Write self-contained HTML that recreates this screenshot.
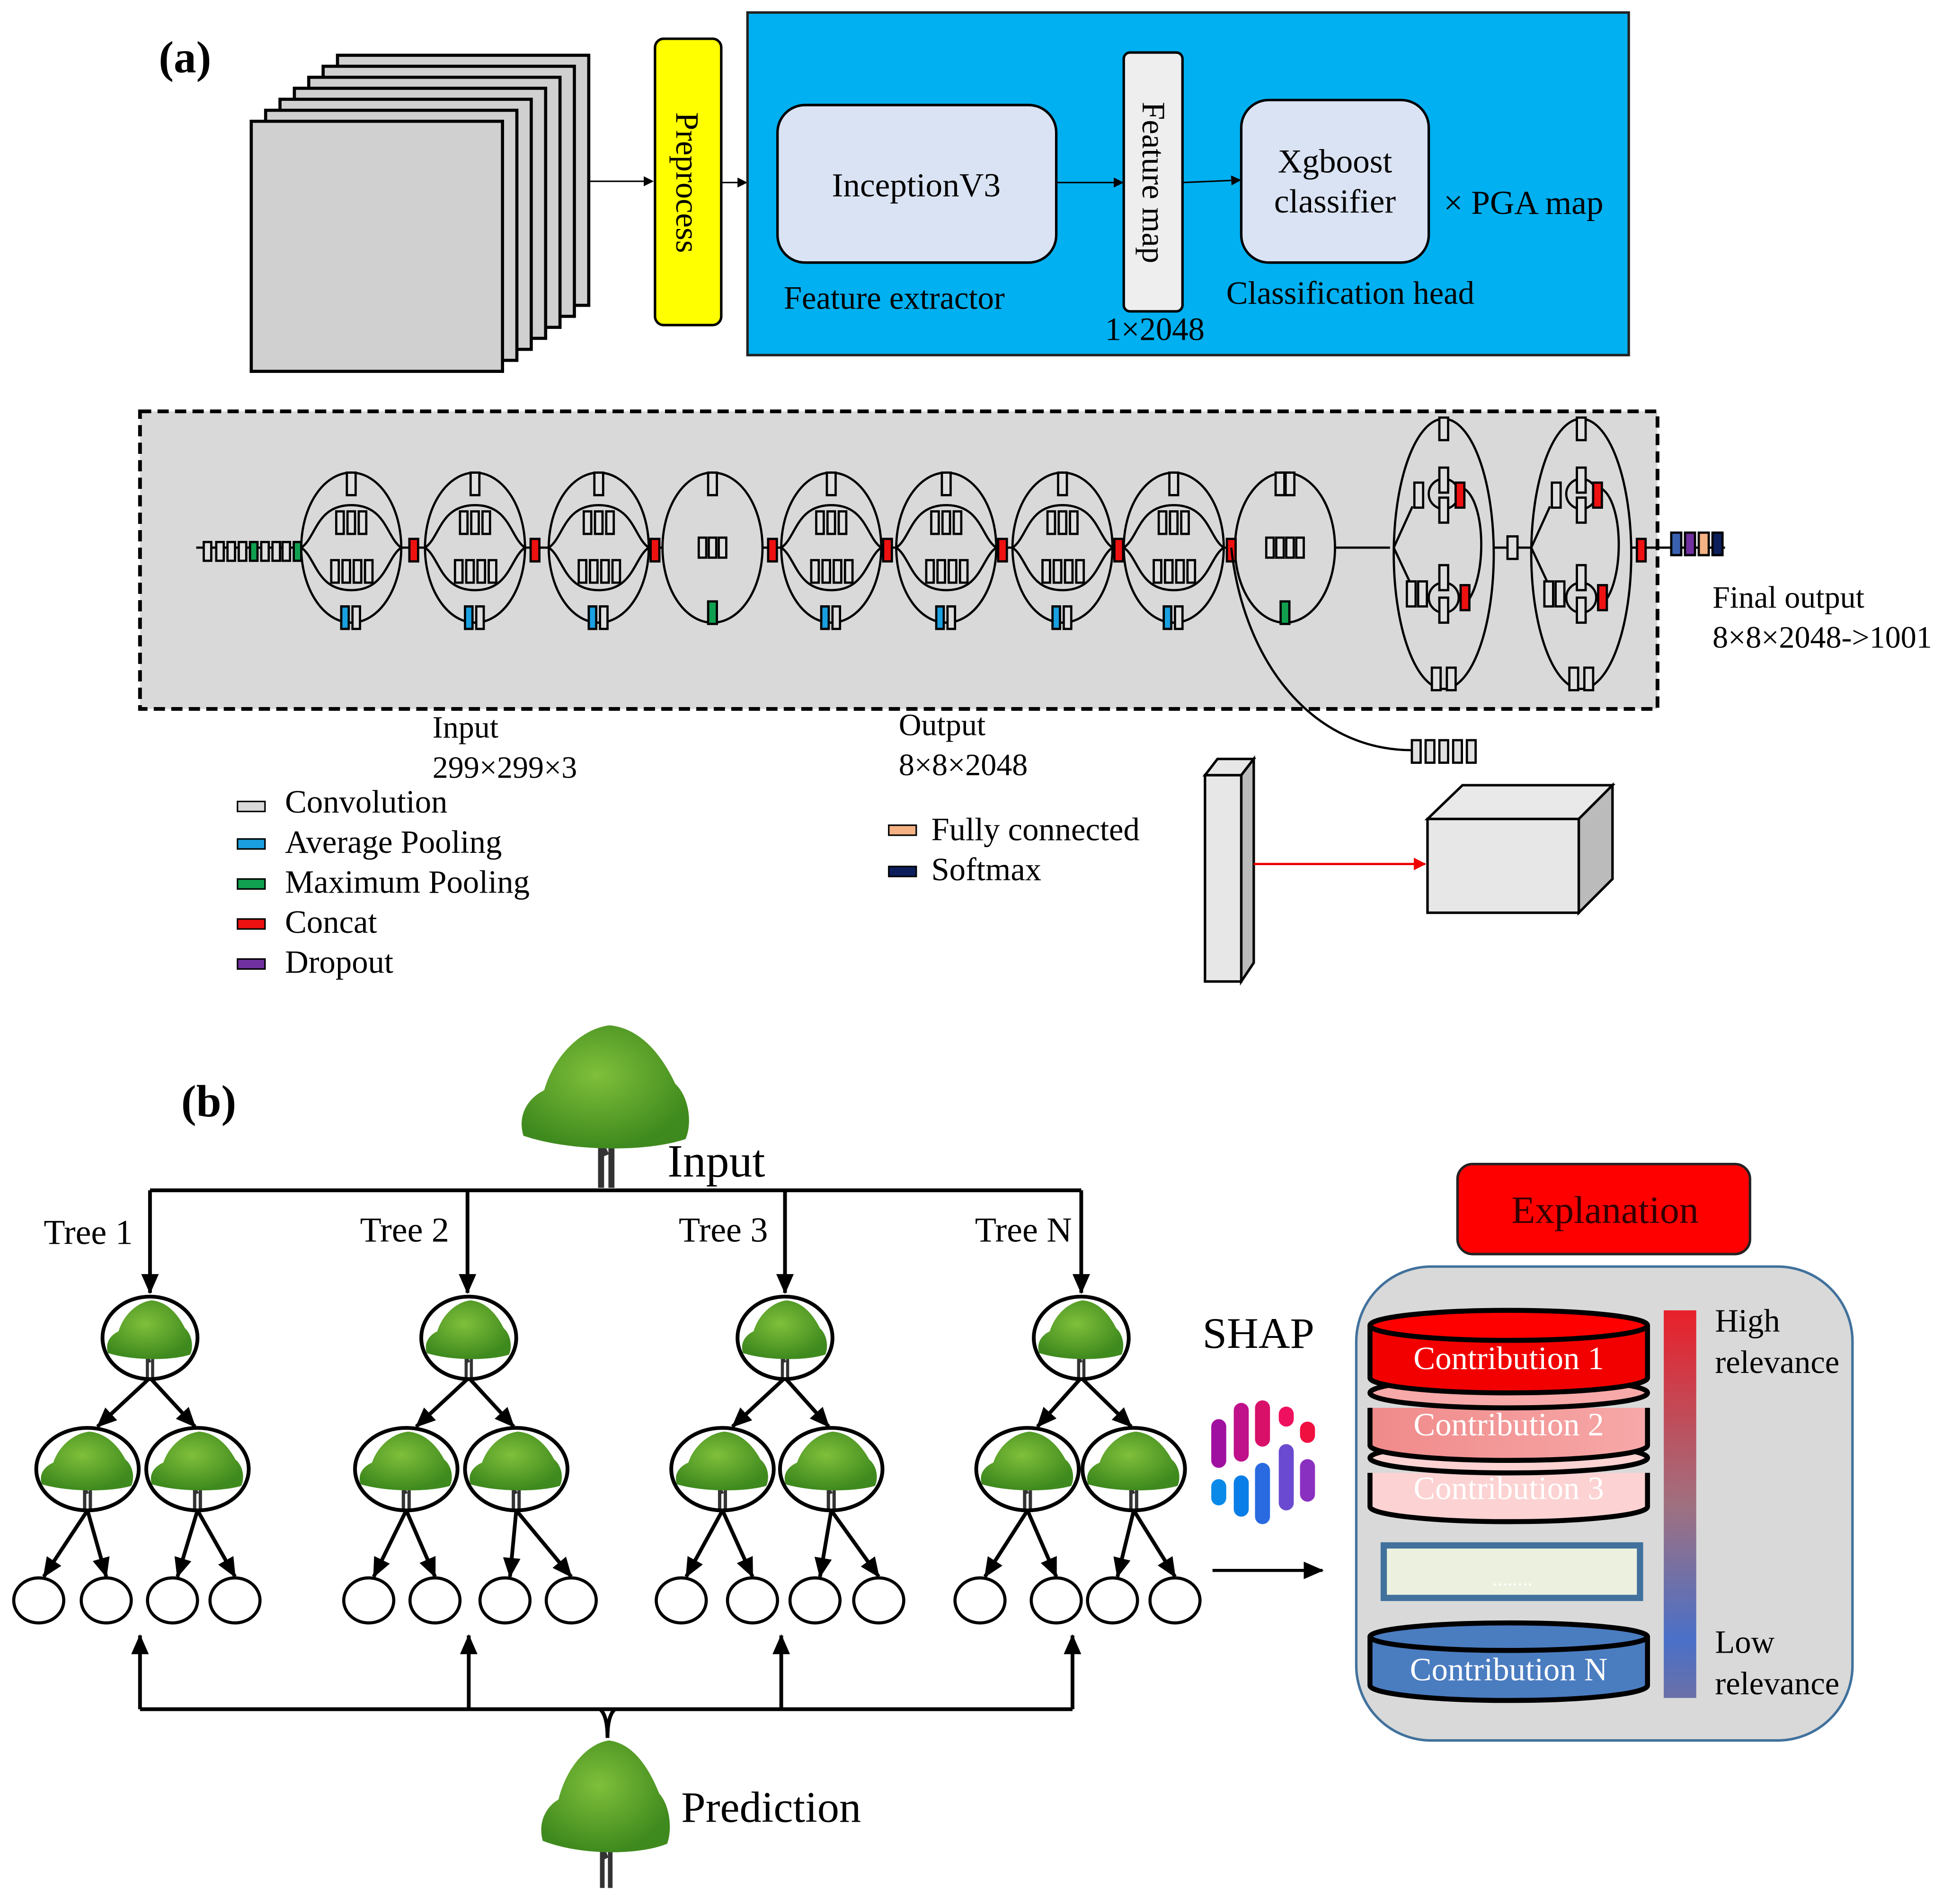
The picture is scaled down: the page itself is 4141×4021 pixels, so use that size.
<!DOCTYPE html>
<html><head><meta charset="utf-8">
<style>
html,body{margin:0;padding:0;background:#fff;}
svg{display:block;}
text{font-family:"Liberation Serif",serif;}
</style></head>
<body>
<svg id="s" width="4141" height="4021" viewBox="0 0 1568 1522" preserveAspectRatio="none" xmlns="http://www.w3.org/2000/svg">
<defs>
<marker id="ah" markerWidth="8" markerHeight="8" refX="7" refY="4" orient="auto" markerUnits="userSpaceOnUse"><path d="M0,0 L8,4 L0,8 z" fill="#000"/></marker>
<marker id="ahb" markerWidth="16" markerHeight="14" refX="15" refY="7" orient="auto" markerUnits="userSpaceOnUse"><path d="M0,0 L16,7 L0,14 z" fill="#000"/></marker>
<marker id="ahr" markerWidth="10" markerHeight="10" refX="9" refY="5" orient="auto" markerUnits="userSpaceOnUse"><path d="M0,0 L10,5 L0,10 z" fill="#e00"/></marker>
<linearGradient id="rb" x1="0" y1="0" x2="0" y2="1"><stop offset="0" stop-color="#e8202a"/><stop offset="0.5" stop-color="#a07080"/><stop offset="0.85" stop-color="#4a70c8"/><stop offset="1" stop-color="#6a70a8"/></linearGradient>
<linearGradient id="c2" x1="0" y1="0" x2="1" y2="0"><stop offset="0" stop-color="#f08a8a"/><stop offset="1" stop-color="#f7a8a8"/></linearGradient>
<radialGradient id="leaf" cx="0.45" cy="0.4" r="0.6"><stop offset="0" stop-color="#7fbf3a"/><stop offset="1" stop-color="#3f8a1e"/></radialGradient>
<symbol id="tree" viewBox="-50 -50 100 100" preserveAspectRatio="none" overflow="visible">
<path d="M-3,50 L-3,22 L-14,8 M3,50 L3,20 L14,6 M0,30 L-7,14" stroke="#333" stroke-width="3.5" fill="none"/>
<path d="M-48,18 C-52,4 -44,-6 -36,-10 C-30,-32 -14,-48 2,-50 C20,-48 32,-32 40,-14 C48,-6 50,10 46,20 C24,28 -20,28 -48,18 z" fill="url(#leaf)"/>
</symbol>
</defs>

<!-- (a) -->
<text x="127" y="58" font-size="36" font-weight="bold">(a)</text>
<g id="stack" fill="#d0d0d0" stroke="#000" stroke-width="2.5"></g>
<line x1="470" y1="145" x2="522" y2="145" stroke="#000" stroke-width="1.2" marker-end="url(#ah)"/>
<rect x="524" y="31" width="53" height="229" rx="7" fill="#ffff00" stroke="#000" stroke-width="2"/>
<text x="0" y="0" font-size="26" transform="translate(541,146) rotate(90)" text-anchor="middle">Preprocess</text>
<line x1="577" y1="146" x2="597" y2="146" stroke="#000" stroke-width="1.2" marker-end="url(#ah)"/>
<rect x="598" y="10" width="705" height="274" fill="#00b0f0" stroke="#222" stroke-width="2"/>
<rect x="622" y="84" width="223" height="126" rx="22" fill="#dae3f3" stroke="#000" stroke-width="2"/>
<text x="733" y="157" font-size="27" text-anchor="middle">InceptionV3</text>
<line x1="845" y1="146" x2="898" y2="146" stroke="#000" stroke-width="1.2" marker-end="url(#ah)"/>
<rect x="899" y="42" width="47" height="207" rx="5" fill="#eeeeee" stroke="#000" stroke-width="2"/>
<text x="0" y="0" font-size="26" transform="translate(914,146) rotate(90)" text-anchor="middle">Feature map</text>
<line x1="946" y1="146" x2="992" y2="144" stroke="#000" stroke-width="1.2" marker-end="url(#ah)"/>
<rect x="993" y="80" width="150" height="130" rx="22" fill="#dae3f3" stroke="#000" stroke-width="2"/>
<text x="1068" y="138" font-size="27" text-anchor="middle">Xgboost</text>
<text x="1068" y="170" font-size="27" text-anchor="middle">classifier</text>
<text x="1155" y="171" font-size="27">× PGA map</text>
<text x="627" y="247" font-size="26">Feature extractor</text>
<text x="981" y="243" font-size="26">Classification head</text>
<text x="884" y="272" font-size="26">1×2048</text>

<!-- network panel -->
<rect x="112" y="329" width="1214" height="238" fill="#d9d9d9" stroke="#000" stroke-width="3" stroke-dasharray="9,5"/>
<g id="net" stroke="#000" stroke-width="1.8" fill="none"></g>
<text x="1370" y="486" font-size="25">Final output</text>
<text x="1370" y="518" font-size="25">8×8×2048-&gt;1001</text>
<text x="346" y="590" font-size="25">Input</text>
<text x="346" y="622" font-size="25">299×299×3</text>
<text x="719" y="588" font-size="25">Output</text>
<text x="719" y="620" font-size="25">8×8×2048</text>

<!-- legend -->
<g stroke="#000" stroke-width="1.2">
<rect x="190" y="641" width="22" height="8" fill="#d9d9d9"/>
<rect x="190" y="671" width="22" height="8" fill="#1aa0e0"/>
<rect x="190" y="703" width="22" height="8" fill="#10a050"/>
<rect x="190" y="735" width="22" height="8" fill="#ee1111"/>
<rect x="190" y="767" width="22" height="8" fill="#7030a0"/>
<rect x="711" y="660" width="22" height="8" fill="#f4b183"/>
<rect x="711" y="693" width="22" height="8" fill="#0c1f5c"/>
</g>
<g font-size="26">
<text x="228" y="650">Convolution</text>
<text x="228" y="682">Average Pooling</text>
<text x="228" y="714">Maximum Pooling</text>
<text x="228" y="746">Concat</text>
<text x="228" y="778">Dropout</text>
<text x="745" y="672">Fully connected</text>
<text x="745" y="704">Softmax</text>
</g>

<!-- 3D shapes -->
<g stroke="#000" stroke-width="2">
<polygon points="964,620 993,620 1003,607 974,607" fill="#e7e7e7"/>
<polygon points="993,620 1003,607 1003,770 993,785" fill="#bbb"/>
<rect x="964" y="620" width="29" height="165" fill="#e7e7e7"/>
<polygon points="1142,655 1263,655 1290,628 1170,628" fill="#e9e9e9"/>
<polygon points="1263,655 1290,628 1290,703 1263,730" fill="#bbb"/>
<rect x="1142" y="655" width="121" height="75" fill="#e7e7e7"/>
</g>
<line x1="1003" y1="691" x2="1140" y2="691" stroke="#e00" stroke-width="1.8" marker-end="url(#ahr)"/>

<!-- (b) -->
<text x="145" y="893" font-size="36" font-weight="bold">(b)</text>
<use href="#tree" x="416" y="820" width="138" height="130"/>
<text x="534" y="941" font-size="37">Input</text>
<g stroke="#000" stroke-width="3" fill="none">
<path d="M120,952 L865,952"/>
<path d="M120,952 L120,1034" marker-end="url(#ahb)"/>
<path d="M374,952 L374,1034" marker-end="url(#ahb)"/>
<path d="M628,952 L628,1034" marker-end="url(#ahb)"/>
<path d="M865,952 L865,1034" marker-end="url(#ahb)"/>
<path d="M112,1367 L858,1367"/>
<path d="M112,1367 L112,1308" marker-end="url(#ahb)"/>
<path d="M375,1367 L375,1308" marker-end="url(#ahb)"/>
<path d="M625,1367 L625,1308" marker-end="url(#ahb)"/>
<path d="M858,1367 L858,1308" marker-end="url(#ahb)"/>
<path d="M480,1367 Q486,1372 486,1390 M492,1367 Q486,1372 486,1390"/>
</g>
<g font-size="28">
<text x="35" y="995">Tree 1</text>
<text x="288" y="993">Tree 2</text>
<text x="543" y="993">Tree 3</text>
<text x="780" y="993">Tree N</text>
</g>
<g id="trees"></g>
<use href="#tree" x="432" y="1392" width="106" height="118"/>
<text x="545" y="1457" font-size="35">Prediction</text>

<text x="962" y="1078" font-size="35">SHAP</text>
<g stroke-linecap="round" stroke-width="12">
<line x1="975" y1="1141" x2="975" y2="1168" stroke="#a010a0"/>
<line x1="975" y1="1189" x2="975" y2="1198" stroke="#0a8ae8"/>
<line x1="993" y1="1128" x2="993" y2="1163" stroke="#c0108a"/>
<line x1="993" y1="1186" x2="993" y2="1207" stroke="#0a7ee8"/>
<line x1="1010" y1="1126" x2="1010" y2="1151" stroke="#d8106a"/>
<line x1="1010" y1="1176" x2="1010" y2="1213" stroke="#2a6ae0"/>
<line x1="1029" y1="1131" x2="1029" y2="1135" stroke="#f01060"/>
<line x1="1029" y1="1161" x2="1029" y2="1202" stroke="#6a4ad0"/>
<line x1="1046" y1="1143" x2="1046" y2="1148" stroke="#f01040"/>
<line x1="1046" y1="1173" x2="1046" y2="1195" stroke="#8a30c0"/>
</g>
<line x1="970" y1="1256" x2="1058" y2="1256" stroke="#000" stroke-width="2.5" marker-end="url(#ahb)"/>

<rect x="1166" y="931" width="234" height="72" rx="12" fill="#ff0000" stroke="#222" stroke-width="2"/>
<text x="1284" y="978" font-size="31" text-anchor="middle" fill="#300">Explanation</text>
<rect x="1085" y="1013" width="397" height="379" rx="60" fill="#d9d9d9" stroke="#41719c" stroke-width="2"/>
<g stroke="#000" stroke-width="4">
<path d="M1096,1178 L1096,1205 A111,12 0 0 0 1318,1205 L1318,1178" fill="#fcd2d2"/>
<ellipse cx="1207" cy="1166" rx="111" ry="12" fill="#fcd2d2"/>
<path d="M1096,1126 L1096,1156 A111,12 0 0 0 1318,1156 L1318,1126" fill="url(#c2)"/>
<ellipse cx="1207" cy="1114" rx="111" ry="12" fill="#f7a8a8"/>
<path d="M1096,1060 L1096,1102 A111,12 0 0 0 1318,1102 L1318,1060" fill="#f20000"/>
<ellipse cx="1207" cy="1060" rx="111" ry="12" fill="#f00"/>
<path d="M1096,1309 L1096,1348 A111,12 0 0 0 1318,1348 L1318,1309" fill="#4a7cc0"/>
<ellipse cx="1207" cy="1309" rx="111" ry="11" fill="#4a7cc0"/>
</g>
<g font-size="26" fill="#fff" text-anchor="middle">
<text x="1207" y="1095">Contribution 1</text>
<text x="1207" y="1148">Contribution 2</text>
<text x="1207" y="1199">Contribution 3</text>
<text x="1207" y="1344">Contribution N</text>
</g>
<rect x="1107" y="1236" width="205" height="42" fill="#ebf1de" stroke="#41719c" stroke-width="5"/>
<text x="1210" y="1268" font-size="16" fill="#fff" text-anchor="middle">........</text>
<rect x="1331" y="1048" width="26" height="310" fill="url(#rb)"/>
<g font-size="26">
<text x="1372" y="1065">High</text>
<text x="1372" y="1098">relevance</text>
<text x="1372" y="1322">Low</text>
<text x="1372" y="1355">relevance</text>
</g>
</svg>
<script>
var NS="http://www.w3.org/2000/svg";
function el(p,t,a){var e=document.createElementNS(NS,t);for(var k in a)e.setAttribute(k,a[k]);p.appendChild(e);return e;}
var st=document.getElementById('stack');
for(var i=6;i>=0;i--){el(st,'rect',{x:201+i*11.5,y:97-i*8.8,width:201,height:200});}
var n=document.getElementById('net');
var C={g:'#e0e0e0',b:'#1aa0e0',m:'#10a050',r:'#ee1111',p:'#7030a0',o:'#f4b183',k:'#0c1f5c',bl:'#3a60b0'};
function box(x,y,w,h,c){el(n,'rect',{x:x-w/2,y:y-h/2,width:w,height:h,fill:c});}
var Y=438;
el(n,'line',{x1:157,y1:Y,x2:1112,y2:Y});
el(n,'line',{x1:1185,y1:Y,x2:1225,y2:Y});
el(n,'line',{x1:1300,y1:Y,x2:1380,y2:Y});
var sx=[166,176,185,194,203,212,221,229,238];
var sc=['g','g','g','g','m','g','g','g','m'];
for(var i=0;i<9;i++)box(sx[i],441,6,15,C[sc[i]]);
var mods=[281,380,479,570,665,757,850,939,1028];
for(var j=0;j<mods.length;j++){
 var cx=mods[j];
 el(n,'ellipse',{cx:cx,cy:Y,rx:40,ry:60,fill:'#d9d9d9'});
 box(cx,387,7,18,C.g);
 if(j==3||j==8){
   if(j==8){box(cx-4,387,7,18,C.g);box(cx+4,387,7,18,C.g);}
   for(var q=0;q<4&&!(j==3&&q==3);q++)box(cx-12+q*8+(j==3?4:0),438,6,16,C.g);
   box(cx,490,7,18,C.m);
 } else {
   el(n,'path',{d:'M'+(cx-40)+','+Y+' C'+(cx-28)+','+(Y-8)+' '+(cx-28)+','+(Y-34)+' '+cx+','+(Y-34)+' C'+(cx+28)+','+(Y-34)+' '+(cx+28)+','+(Y-8)+' '+(cx+40)+','+Y});
   el(n,'path',{d:'M'+(cx-40)+','+Y+' C'+(cx-28)+','+(Y+8)+' '+(cx-28)+','+(Y+34)+' '+cx+','+(Y+34)+' C'+(cx+28)+','+(Y+34)+' '+(cx+28)+','+(Y+8)+' '+(cx+40)+','+Y});
   for(var q=0;q<3;q++)box(cx-9+q*9,418,6,18,C.g);
   for(var q=0;q<4;q++)box(cx-13+q*9,457,6,18,C.g);
   box(cx-5,494,6,18,C.b);box(cx+4,494,6,18,C.g);
 }
}
var cc=[331,428,524,618,710,802,895,985,1313];
for(var j=0;j<cc.length;j++)box(cc[j],440,7,18,C.r);
[1155,1265].forEach(function(cx){
 el(n,'ellipse',{cx:cx,cy:443,rx:40,ry:108,fill:'#d9d9d9'});
 el(n,'path',{d:'M'+(cx-40)+',438 L'+(cx-25)+',405 M'+(cx-40)+',438 L'+(cx-25)+',470'});
 el(n,'path',{d:'M'+(cx+15)+',390 C'+(cx+35)+',400 '+(cx+35)+',470 '+(cx+15)+',485'});
 el(n,'circle',{cx:cx,cy:395,r:12});el(n,'circle',{cx:cx,cy:478,r:12});
 box(cx,343,7,18,C.g);
 box(cx-20,396,7,20,C.g);box(cx,384,7,20,C.g);box(cx,408,7,20,C.g);box(cx+13,396,7,20,C.r);
 box(cx-26,475,7,20,C.g);box(cx-17,475,7,20,C.g);box(cx,462,7,20,C.g);box(cx,488,7,20,C.g);box(cx+17,478,7,20,C.r);
 box(cx-6,543,7,18,C.g);box(cx+6,543,7,18,C.g);
});
box(1210,438,8,18,C.g);
el(n,'path',{d:'M985,438 C995,530 1050,600 1130,600'});
for(var i=0;i<5;i++)box(1133+i*11,601,7,18,C.g);
var fc=[C.bl,C.p,C.o,C.k];for(var i=0;i<4;i++)box(1341+i*11,435,8,18,fc[i]);
var T=document.getElementById('trees');
var defs=[[120,70,158,[31,85,138,188]],[375,325,413,[295,348,404,457]],[628,578,665,[545,602,652,703]],[865,822,907,[784,845,890,940]]];
defs.forEach(function(d){
 var r=d[0];
 var g=el(T,'g',{stroke:'#000','stroke-width':3,fill:'none'});
 el(g,'line',{x1:r,y1:1102,x2:d[1]+8,y2:1141,'marker-end':'url(#ahb)'});
 el(g,'line',{x1:r,y1:1102,x2:d[2]-2,y2:1141,'marker-end':'url(#ahb)'});
 [[d[1],0,1],[d[1],1,2],[d[2],2,3],[d[2],3,4]].forEach(function(a){
   var lx=d[3][a[1]];el(g,'line',{x1:a[0],y1:1208,x2:lx+(lx<a[0]?4:0),y2:1261,'marker-end':'url(#ahb)'});});
 [[r,1070,38,33],[d[1],1175,41,33],[d[2],1175,41,33]].forEach(function(c){
   el(T,'ellipse',{cx:c[0],cy:c[1],rx:c[2],ry:c[3],fill:'#fff'});
   el(T,'use',{href:'#tree',x:c[0]-c[2]+3,y:c[1]-c[3]+3,width:2*c[2]-6,height:2*c[3]-4});
   el(T,'ellipse',{cx:c[0],cy:c[1],rx:c[2],ry:c[3],fill:'none',stroke:'#000','stroke-width':3});
 });
 d[3].forEach(function(x){el(T,'ellipse',{cx:x,cy:1280,rx:20,ry:18,fill:'#fff',stroke:'#000','stroke-width':2.5});});
});
</script>
</body></html>
